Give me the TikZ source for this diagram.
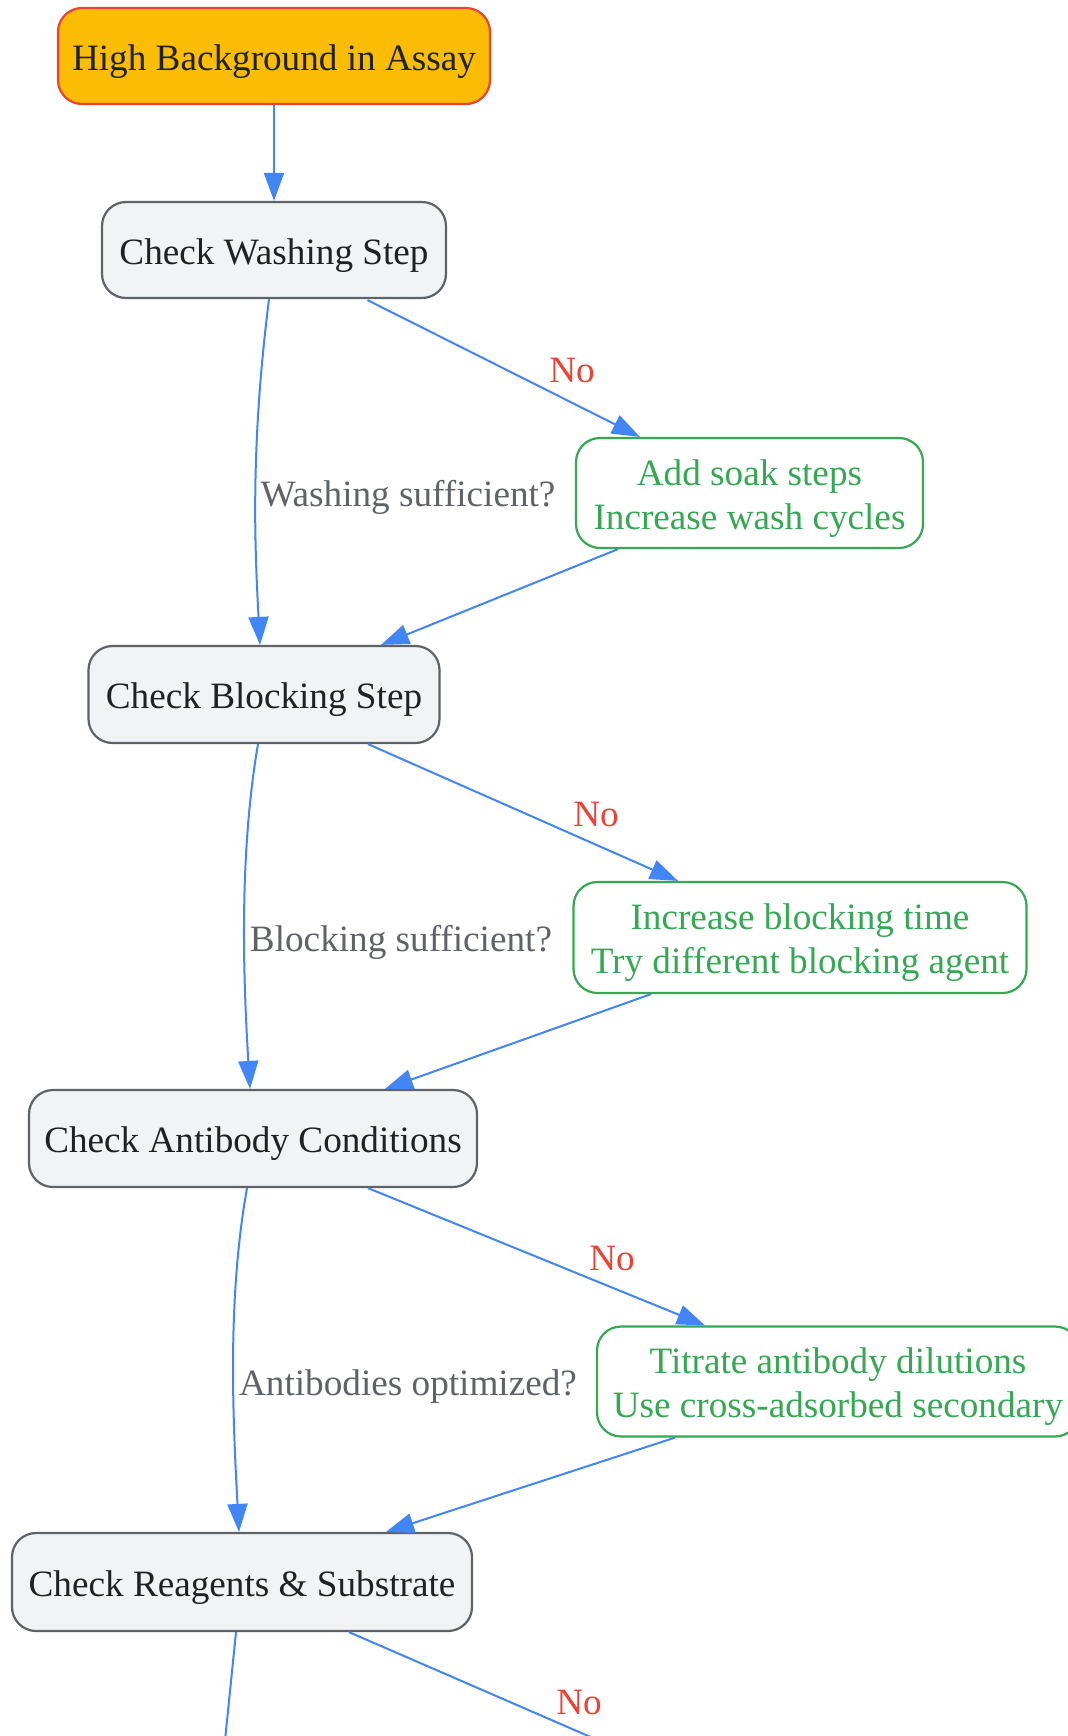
\documentclass[tikz,border=0pt]{standalone}
\usepackage{fontspec}
\setmainfont{Liberation Serif}
\usetikzlibrary{arrows.meta,calc}
\definecolor{amber}{HTML}{FBBC04}
\definecolor{gred}{HTML}{EA4335}
\definecolor{gfill}{HTML}{F1F3F4}
\definecolor{gstroke}{HTML}{5F6368}
\definecolor{gdark}{HTML}{202124}
\definecolor{ggreen}{HTML}{34A853}
\definecolor{gblue}{HTML}{4285F4}
\newcommand{\firststrut}{\rule{0pt}{18.2pt}}
\tikzset{
  base/.style={rounded corners=12pt, line width=1.1pt, inner sep=0pt, align=center,
    font=\fontsize{18.6}{22}\selectfont},
  onebox/.style={base, text height=17.6pt, text depth=3.6pt},
  startbox/.style={onebox, fill=amber, draw=gred, text=gdark},
  checkbox/.style={onebox, fill=gfill, draw=gstroke, text=gdark},
  fixbox/.style={base, fill=white, draw=ggreen, text=ggreen},
  edge/.style={draw=gblue, line width=1pt, -{Triangle[length=14pt,width=10pt]}},
  plainedge/.style={draw=gblue, line width=1pt},
  qlabel/.style={text=gstroke, inner sep=0pt, font=\fontsize{18.6}{22}\selectfont},
  nolabel/.style={text=gred, inner sep=0pt, font=\fontsize{18.6}{22}\selectfont},
}
\begin{document}
\begin{tikzpicture}[x=0.5pt,y=-0.5pt]
\clip (0,0) rectangle (1068,1736);
\fill[white] (0,0) rectangle (1068,1736);

\node[startbox, minimum width=216pt, minimum height=48pt] (top) at (274,56) {High Background in Assay};
\node[checkbox, minimum width=172pt, minimum height=48pt] (wash) at (274,250) {Check Washing Step};
\node[fixbox, minimum width=173.5pt, minimum height=55pt] (soak) at (749.5,493) {\firststrut Add soak steps\\Increase wash cycles};
\node[checkbox, minimum width=175.5pt, minimum height=48.5pt] (block) at (264,694.5) {Check Blocking Step};
\node[fixbox, minimum width=226.5pt, minimum height=55.5pt] (incr) at (800,937.5) {\firststrut Increase blocking time\\Try different blocking agent};
\node[checkbox, minimum width=224pt, minimum height=48.5pt] (anti) at (253,1138.5) {Check Antibody Conditions};
\node[fixbox, minimum width=241pt, minimum height=55pt] (titr) at (838,1381.5) {\firststrut Titrate antibody dilutions\\Use cross-adsorbed secondary};
\node[checkbox, minimum width=230pt, minimum height=49pt] (reag) at (242,1582) {Check Reagents \& Substrate};

\coordinate (downend) at (222,1770);
\coordinate (noend) at (662,1768);

% edges
\draw[edge] (top.south) -- (wash.north);
\draw[edge] ($(wash.south)+(-5,0)$) .. controls (250,450) and (255,550) .. ($(block.north)+(-4,0)$);
\draw[edge] ($(wash.south)+(93.5,1)$) -- ($(soak.north)+(-109.5,0)$);
\draw[edge] ($(soak.south)+(-131.5,0)$) -- ($(block.north)+(117,0)$);
\draw[edge] ($(block.south)+(-6,0)$) .. controls (238,860) and (244,990) .. ($(anti.north)+(-3,0)$);
\draw[edge] ($(block.south)+(104,0)$) -- ($(incr.north)+(-122,0)$);
\draw[edge] ($(incr.south)+(-149,0)$) -- ($(anti.north)+(132,0)$);
\draw[edge] ($(anti.south)+(-6,0)$) .. controls (227,1300) and (233,1420) .. ($(reag.north)+(-3,0)$);
\draw[edge] ($(anti.south)+(115,0)$) -- ($(titr.north)+(-133,0)$);
\draw[edge] ($(titr.south)+(-163,0)$) -- ($(reag.north)+(144,0)$);
\draw[plainedge] ($(reag.south)+(-6,0)$) -- (downend);
\draw[plainedge] ($(reag.south)+(107,0)$) -- (noend);

% labels
\node[qlabel] (l1) at (408,497.5) {Washing sufficient?};
\node[nolabel] (n1) at (572,370.5) {No};
\node[qlabel] (l2) at (401,942.5) {Blocking sufficient?};
\node[nolabel] (n2) at (596,814) {No};
\node[qlabel] (l3) at (408,1386.5) {Antibodies optimized?};
\node[nolabel] (n3) at (612,1258) {No};
\node[nolabel] (n4) at (579,1702) {No};
\end{tikzpicture}
\end{document}
